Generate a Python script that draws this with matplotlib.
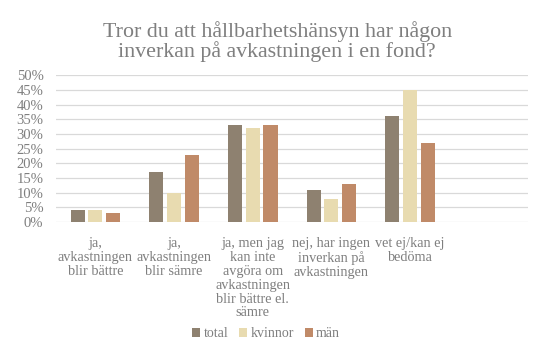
import numpy as np
import matplotlib.pyplot as plt

plt.rcParams['font.family'] = ['Liberation Serif', 'DejaVu Serif']

kategorier = [
    "ja,\navkastningen\nblir bättre",
    "ja,\navkastningen\nblir sämre",
    "ja, men jag\nkan inte\navgöra om\navkastningen\nblir bättre el.\nsämre",
    "nej, har ingen\ninverkan på\navkastningen",
    "vet ej/kan ej\nbedöma",
    "",
]
total = [4, 17, 33, 11, 36, np.nan]
kvinnor = [4, 10, 32, 8, 45, np.nan]
man = [3, 23, 33, 13, 27, np.nan]

farger = ["#8e8170", "#e8dbb0", "#c08a68"]
gra = "#7f7f7f"

fig = plt.figure(figsize=(5.49, 3.56), dpi=100)
ax = fig.add_axes([0.102, 0.376, 0.86, 0.413])

x = np.arange(len(kategorier))
b = 0.18
d = 0.225
ax.bar(x - d, total, b, color=farger[0], label="total", zorder=3)
ax.bar(x, kvinnor, b, color=farger[1], label="kvinnor", zorder=3)
ax.bar(x + d, man, b, color=farger[2], label="män", zorder=3)

ax.set_xlim(-0.5, len(kategorier) - 0.5)
ax.set_ylim(0, 50)
ax.set_yticks(np.arange(0, 51, 5))
ax.set_yticklabels([f"{v}%" for v in range(0, 51, 5)], color=gra, fontsize=10.5)
ax.set_xticks(x)
ax.set_xticklabels(kategorier, color=gra, fontsize=10.3, linespacing=1.08)
ax.tick_params(axis="both", length=0)
ax.tick_params(axis="y", pad=9)
ax.tick_params(axis="x", pad=11)
ax.grid(axis="y", color="#d9d9d9", linewidth=0.9, zorder=0)
for s in ax.spines.values():
    s.set_visible(False)

fig.suptitle("Tror du att hållbarhetshänsyn har någon\ninverkan på avkastningen i en fond?",
             x=0.505, y=0.94, color=gra, fontsize=15.8, linespacing=0.95)

fig.legend(loc="center", bbox_to_anchor=(0.485, 0.062), ncol=3, frameon=False,
           handlelength=0.55, handleheight=0.55, handletextpad=0.25, columnspacing=0.8,
           prop={"size": 10}, labelcolor=gra)

fig.savefig("out.png", dpi=100)
